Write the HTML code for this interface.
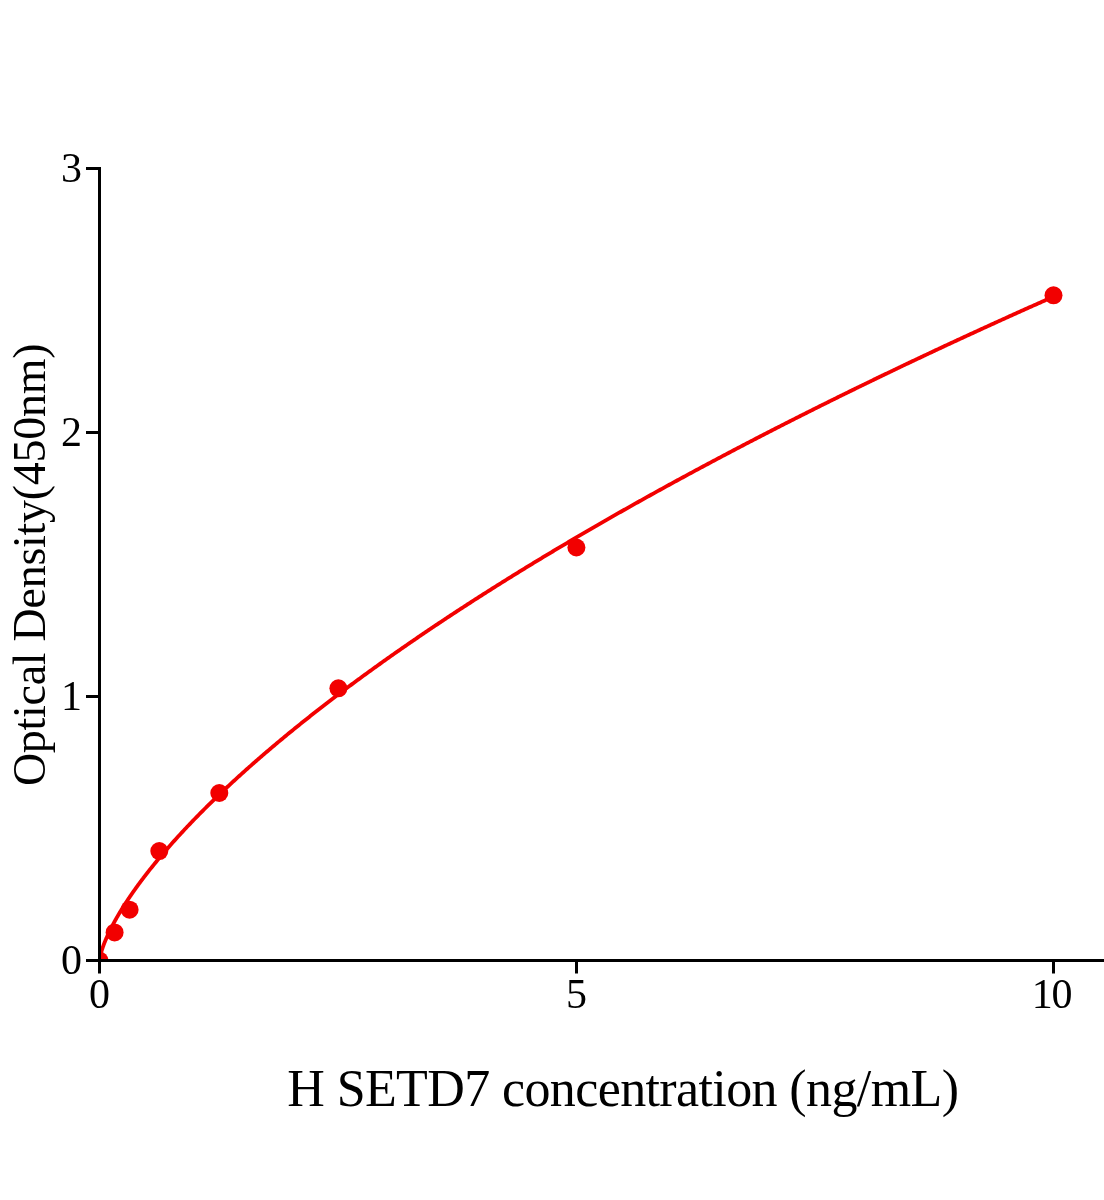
<!DOCTYPE html>
<html><head><meta charset="utf-8"><style>
html,body{margin:0;padding:0;background:#fff;}
svg{display:block;}
text{font-family:"Liberation Serif",serif;fill:#000;}
svg{will-change:transform;}
</style></head><body>
<svg width="1104" height="1200" viewBox="0 0 1104 1200">
<defs><clipPath id="pa"><rect x="99.5" y="0" width="1004.5" height="960.5"/></clipPath></defs>
<rect width="1104" height="1200" fill="#fff"/>
<g clip-path="url(#pa)">
<polyline points="99.50,960.80 99.74,958.68 99.98,957.35 100.22,956.20 100.46,955.17 100.70,954.21 100.94,953.30 101.18,952.44 101.42,951.61 101.66,950.82 101.90,950.05 102.14,949.30 102.38,948.58 102.62,947.87 102.86,947.17 103.10,946.49 103.34,945.83 103.57,945.17 103.81,944.53 104.05,943.90 104.29,943.28 104.53,942.67 104.77,942.06 105.01,941.47 105.25,940.88 105.49,940.30 105.73,939.72 105.97,939.16 106.21,938.60 106.45,938.04 106.69,937.49 106.93,936.95 107.17,936.41 107.41,935.87 107.65,935.35 107.89,934.82 108.13,934.30 108.37,933.79 108.61,933.27 108.85,932.77 109.09,932.26 109.33,931.76 109.57,931.27 109.81,930.77 110.05,930.29 110.29,929.80 110.53,929.32 110.77,928.84 111.01,928.36 111.25,927.89 111.48,927.42 111.72,926.95 111.96,926.48 112.20,926.02 112.44,925.56 112.68,925.11 112.92,924.65 113.16,924.20 113.40,923.75 113.64,923.30 113.88,922.86 114.12,922.41 114.36,921.97 114.60,921.53 114.84,921.10 115.08,920.66 115.32,920.23 115.56,919.80 115.80,919.37 116.04,918.95 116.28,918.52 116.52,918.10 116.76,917.68 117.00,917.26 117.24,916.84 117.48,916.43 117.72,916.01 117.96,915.60 118.20,915.19 118.44,914.78 118.68,914.37 118.92,913.96 119.16,913.56 119.39,913.16 119.63,912.75 119.87,912.35 120.11,911.96 120.35,911.56 120.59,911.16 120.83,910.77 121.07,910.37 121.31,909.98 121.55,909.59 121.79,909.20 122.03,908.81 122.27,908.43 122.51,908.04 122.75,907.66 122.99,907.27 123.23,906.89 123.47,906.51 123.71,906.13 123.95,905.75 124.19,905.38 124.43,905.00 124.67,904.63 124.91,904.25 125.15,903.88 125.39,903.51 125.63,903.14 125.87,902.77 126.11,902.40 126.35,902.03 126.59,901.66 126.83,901.30 127.07,900.93 127.31,900.57 127.54,900.21 127.78,899.84 128.02,899.48 128.26,899.12 128.50,898.76 128.74,898.41 128.98,898.05 129.22,897.69 129.46,897.34 129.70,896.98 129.94,896.63 130.18,896.27 130.42,895.92 130.66,895.57 130.90,895.22 131.14,894.87 131.38,894.52 131.62,894.17 131.86,893.83 132.10,893.48 132.34,893.14 132.58,892.79 132.82,892.45 133.06,892.10 133.30,891.76 133.54,891.42 133.78,891.08 134.02,890.74 134.26,890.40 134.50,890.06 134.74,889.72 134.98,889.38 135.22,889.05 135.45,888.71 135.69,888.38 135.93,888.04 136.17,887.71 136.41,887.37 136.65,887.04 136.89,886.71 137.13,886.38 137.37,886.05 137.61,885.72 137.85,885.39 138.09,885.06 138.33,884.73 138.57,884.40 138.81,884.08 139.05,883.75 139.29,883.43 139.53,883.10 139.77,882.78 140.01,882.45 140.25,882.13 140.49,881.81 140.73,881.48 140.97,881.16 141.21,880.84 141.45,880.52 141.69,880.20 141.93,879.88 142.17,879.56 142.41,879.25 142.65,878.93 142.89,878.61 143.13,878.30 143.36,877.98 143.60,877.66 143.84,877.35 144.08,877.04 144.32,876.72 144.56,876.41 144.80,876.10 145.04,875.78 145.28,875.47 145.52,875.16 145.76,874.85 146.00,874.54 146.24,874.23 146.48,873.92 146.72,873.61 146.96,873.30 147.20,873.00 148.50,871.34 149.79,869.70 151.09,868.07 152.39,866.45 153.68,864.85 154.98,863.26 156.28,861.68 157.57,860.11 158.87,858.55 160.17,857.00 161.46,855.47 162.76,853.94 164.06,852.42 165.35,850.92 166.65,849.42 167.95,847.93 169.24,846.45 170.54,844.98 171.83,843.52 173.13,842.06 174.43,840.62 175.72,839.18 177.02,837.75 178.32,836.33 179.61,834.91 180.91,833.50 182.21,832.10 183.50,830.71 184.80,829.32 186.10,827.94 187.39,826.57 188.69,825.20 189.99,823.84 191.28,822.49 192.58,821.14 193.88,819.80 195.17,818.46 196.47,817.13 197.77,815.81 199.06,814.49 200.36,813.18 201.66,811.87 202.95,810.57 204.25,809.27 205.55,807.98 206.84,806.69 208.14,805.41 209.44,804.13 210.73,802.86 212.03,801.60 213.32,800.33 214.62,799.08 215.92,797.83 217.21,796.58 218.51,795.33 219.81,794.09 221.10,792.86 222.40,791.63 223.70,790.40 224.99,789.18 226.29,787.96 227.59,786.75 228.88,785.54 230.18,784.34 231.48,783.13 232.77,781.94 234.07,780.74 235.37,779.55 236.66,778.37 237.96,777.19 239.26,776.01 240.55,774.83 241.85,773.66 243.15,772.49 244.44,771.33 245.74,770.17 247.04,769.01 248.33,767.86 249.63,766.70 250.93,765.56 252.22,764.41 253.52,763.27 254.82,762.13 256.11,761.00 257.41,759.87 258.70,758.74 260.00,757.62 261.30,756.49 262.59,755.37 263.89,754.26 265.19,753.14 266.48,752.03 267.78,750.93 269.08,749.82 270.37,748.72 271.67,747.62 272.97,746.53 274.26,745.43 275.56,744.34 276.86,743.26 278.15,742.17 279.45,741.09 280.75,740.01 282.04,738.93 283.34,737.86 284.64,736.79 285.93,735.72 287.23,734.65 288.53,733.59 289.82,732.53 291.12,731.47 292.42,730.41 293.71,729.36 295.01,728.30 296.31,727.25 297.60,726.21 298.90,725.16 300.19,724.12 301.49,723.08 302.79,722.04 304.08,721.01 305.38,719.97 306.68,718.94 307.97,717.91 309.27,716.89 310.57,715.86 311.86,714.84 313.16,713.82 314.46,712.80 315.75,711.79 317.05,710.77 318.35,709.76 319.64,708.75 320.94,707.74 322.24,706.74 323.53,705.74 324.83,704.73 326.13,703.73 327.42,702.74 328.72,701.74 330.02,700.75 331.31,699.76 332.61,698.77 333.91,697.78 335.20,696.79 336.50,695.81 337.80,694.83 339.09,693.85 340.39,692.87 341.68,691.89 342.98,690.92 344.28,689.95 345.57,688.98 346.87,688.01 348.17,687.04 349.46,686.07 350.76,685.11 352.06,684.15 353.35,683.19 354.65,682.23 355.95,681.27 357.24,680.32 358.54,679.36 359.84,678.41 361.13,677.46 362.43,676.51 363.73,675.57 365.02,674.62 366.32,673.68 367.62,672.74 368.91,671.80 370.21,670.86 371.51,669.92 372.80,668.99 374.10,668.05 375.40,667.12 376.69,666.19 377.99,665.26 379.29,664.33 380.58,663.41 381.88,662.48 383.18,661.56 384.47,660.64 385.77,659.72 387.06,658.80 388.36,657.88 389.66,656.97 390.95,656.05 392.25,655.14 393.55,654.23 394.84,653.32 396.14,652.41 397.44,651.50 398.73,650.60 400.03,649.69 401.33,648.79 402.62,647.89 403.92,646.99 405.22,646.09 406.51,645.19 407.81,644.30 409.11,643.40 410.40,642.51 411.70,641.62 413.00,640.73 414.29,639.84 415.59,638.95 416.89,638.06 418.18,637.18 419.48,636.29 420.78,635.41 422.07,634.53 423.37,633.65 424.67,632.77 425.96,631.90 427.26,631.02 428.55,630.14 429.85,629.27 431.15,628.40 432.44,627.53 433.74,626.66 435.04,625.79 436.33,624.92 437.63,624.05 438.93,623.19 440.22,622.33 441.52,621.46 442.82,620.60 444.11,619.74 445.41,618.88 446.71,618.02 448.00,617.17 449.30,616.31 450.60,615.46 451.89,614.61 453.19,613.75 454.49,612.90 455.78,612.05 457.08,611.20 458.38,610.36 459.67,609.51 460.97,608.66 462.27,607.82 463.56,606.98 464.86,606.14 466.16,605.30 467.45,604.46 468.75,603.62 470.05,602.78 471.34,601.94 472.64,601.11 473.93,600.27 475.23,599.44 476.53,598.61 477.82,597.78 479.12,596.95 480.42,596.12 481.71,595.29 483.01,594.46 484.31,593.64 485.60,592.81 486.90,591.99 488.20,591.17 489.49,590.34 490.79,589.52 492.09,588.70 493.38,587.88 494.68,587.07 495.98,586.25 497.27,585.43 498.57,584.62 499.87,583.81 501.16,582.99 502.46,582.18 503.76,581.37 505.05,580.56 506.35,579.75 507.65,578.94 508.94,578.14 510.24,577.33 511.54,576.53 512.83,575.72 514.13,574.92 515.42,574.12 516.72,573.32 518.02,572.52 519.31,571.72 520.61,570.92 521.91,570.12 523.20,569.32 524.50,568.53 525.80,567.73 527.09,566.94 528.39,566.15 529.69,565.36 530.98,564.56 532.28,563.77 533.58,562.98 534.87,562.20 536.17,561.41 537.47,560.62 538.76,559.84 540.06,559.05 541.36,558.27 542.65,557.48 543.95,556.70 545.25,555.92 546.54,555.14 547.84,554.36 549.14,553.58 550.43,552.80 551.73,552.03 553.03,551.25 554.32,550.47 555.62,549.70 556.92,548.93 558.21,548.15 559.51,547.38 560.80,546.61 562.10,545.84 563.40,545.07 564.69,544.30 565.99,543.53 567.29,542.77 568.58,542.00 569.88,541.23 571.18,540.47 572.47,539.71 573.77,538.94 575.07,538.18 576.36,537.42 577.66,536.66 578.96,535.90 580.25,535.14 581.55,534.38 582.85,533.62 584.14,532.87 585.44,532.11 586.74,531.35 588.03,530.60 589.33,529.85 590.63,529.09 591.92,528.34 593.22,527.59 594.52,526.84 595.81,526.09 597.11,525.34 598.41,524.59 599.70,523.84 601.00,523.10 602.29,522.35 603.59,521.61 604.89,520.86 606.18,520.12 607.48,519.37 608.78,518.63 610.07,517.89 611.37,517.15 612.67,516.41 613.96,515.67 615.26,514.93 616.56,514.19 617.85,513.46 619.15,512.72 620.45,511.98 621.74,511.25 623.04,510.51 624.34,509.78 625.63,509.05 626.93,508.31 628.23,507.58 629.52,506.85 630.82,506.12 632.12,505.39 633.41,504.66 634.71,503.93 636.01,503.21 637.30,502.48 638.60,501.75 639.90,501.03 641.19,500.30 642.49,499.58 643.78,498.86 645.08,498.13 646.38,497.41 647.67,496.69 648.97,495.97 650.27,495.25 651.56,494.53 652.86,493.81 654.16,493.09 655.45,492.38 656.75,491.66 658.05,490.94 659.34,490.23 660.64,489.51 661.94,488.80 663.23,488.08 664.53,487.37 665.83,486.66 667.12,485.95 668.42,485.24 669.72,484.53 671.01,483.82 672.31,483.11 673.61,482.40 674.90,481.69 676.20,480.99 677.50,480.28 678.79,479.57 680.09,478.87 681.39,478.16 682.68,477.46 683.98,476.76 685.28,476.05 686.57,475.35 687.87,474.65 689.16,473.95 690.46,473.25 691.76,472.55 693.05,471.85 694.35,471.15 695.65,470.45 696.94,469.76 698.24,469.06 699.54,468.36 700.83,467.67 702.13,466.97 703.43,466.28 704.72,465.58 706.02,464.89 707.32,464.20 708.61,463.51 709.91,462.82 711.21,462.13 712.50,461.44 713.80,460.75 715.10,460.06 716.39,459.37 717.69,458.68 718.99,457.99 720.28,457.31 721.58,456.62 722.88,455.94 724.17,455.25 725.47,454.57 726.77,453.88 728.06,453.20 729.36,452.52 730.65,451.83 731.95,451.15 733.25,450.47 734.54,449.79 735.84,449.11 737.14,448.43 738.43,447.75 739.73,447.08 741.03,446.40 742.32,445.72 743.62,445.04 744.92,444.37 746.21,443.69 747.51,443.02 748.81,442.34 750.10,441.67 751.40,441.00 752.70,440.32 753.99,439.65 755.29,438.98 756.59,438.31 757.88,437.64 759.18,436.97 760.48,436.30 761.77,435.63 763.07,434.96 764.37,434.29 765.66,433.63 766.96,432.96 768.26,432.29 769.55,431.63 770.85,430.96 772.15,430.30 773.44,429.63 774.74,428.97 776.03,428.31 777.33,427.64 778.63,426.98 779.92,426.32 781.22,425.66 782.52,425.00 783.81,424.34 785.11,423.68 786.41,423.02 787.70,422.36 789.00,421.70 790.30,421.04 791.59,420.39 792.89,419.73 794.19,419.07 795.48,418.42 796.78,417.76 798.08,417.11 799.37,416.46 800.67,415.80 801.97,415.15 803.26,414.50 804.56,413.84 805.86,413.19 807.15,412.54 808.45,411.89 809.75,411.24 811.04,410.59 812.34,409.94 813.64,409.29 814.93,408.64 816.23,408.00 817.52,407.35 818.82,406.70 820.12,406.06 821.41,405.41 822.71,404.77 824.01,404.12 825.30,403.48 826.60,402.83 827.90,402.19 829.19,401.55 830.49,400.90 831.79,400.26 833.08,399.62 834.38,398.98 835.68,398.34 836.97,397.70 838.27,397.06 839.57,396.42 840.86,395.78 842.16,395.14 843.46,394.50 844.75,393.87 846.05,393.23 847.35,392.59 848.64,391.96 849.94,391.32 851.24,390.69 852.53,390.05 853.83,389.42 855.13,388.78 856.42,388.15 857.72,387.52 859.02,386.89 860.31,386.25 861.61,385.62 862.90,384.99 864.20,384.36 865.50,383.73 866.79,383.10 868.09,382.47 869.39,381.84 870.68,381.22 871.98,380.59 873.28,379.96 874.57,379.33 875.87,378.71 877.17,378.08 878.46,377.45 879.76,376.83 881.06,376.20 882.35,375.58 883.65,374.96 884.95,374.33 886.24,373.71 887.54,373.09 888.84,372.46 890.13,371.84 891.43,371.22 892.73,370.60 894.02,369.98 895.32,369.36 896.62,368.74 897.91,368.12 899.21,367.50 900.51,366.88 901.80,366.26 903.10,365.65 904.39,365.03 905.69,364.41 906.99,363.80 908.28,363.18 909.58,362.57 910.88,361.95 912.17,361.34 913.47,360.72 914.77,360.11 916.06,359.49 917.36,358.88 918.66,358.27 919.95,357.66 921.25,357.04 922.55,356.43 923.84,355.82 925.14,355.21 926.44,354.60 927.73,353.99 929.03,353.38 930.33,352.77 931.62,352.16 932.92,351.56 934.22,350.95 935.51,350.34 936.81,349.73 938.11,349.13 939.40,348.52 940.70,347.91 942.00,347.31 943.29,346.70 944.59,346.10 945.88,345.50 947.18,344.89 948.48,344.29 949.77,343.69 951.07,343.08 952.37,342.48 953.66,341.88 954.96,341.28 956.26,340.68 957.55,340.08 958.85,339.47 960.15,338.87 961.44,338.28 962.74,337.68 964.04,337.08 965.33,336.48 966.63,335.88 967.93,335.28 969.22,334.69 970.52,334.09 971.82,333.49 973.11,332.90 974.41,332.30 975.71,331.71 977.00,331.11 978.30,330.52 979.60,329.92 980.89,329.33 982.19,328.73 983.49,328.14 984.78,327.55 986.08,326.96 987.38,326.36 988.67,325.77 989.97,325.18 991.26,324.59 992.56,324.00 993.86,323.41 995.15,322.82 996.45,322.23 997.75,321.64 999.04,321.05 1000.34,320.46 1001.64,319.88 1002.93,319.29 1004.23,318.70 1005.53,318.11 1006.82,317.53 1008.12,316.94 1009.42,316.36 1010.71,315.77 1012.01,315.18 1013.31,314.60 1014.60,314.02 1015.90,313.43 1017.20,312.85 1018.49,312.26 1019.79,311.68 1021.09,311.10 1022.38,310.52 1023.68,309.94 1024.98,309.35 1026.27,308.77 1027.57,308.19 1028.87,307.61 1030.16,307.03 1031.46,306.45 1032.75,305.87 1034.05,305.29 1035.35,304.71 1036.64,304.14 1037.94,303.56 1039.24,302.98 1040.53,302.40 1041.83,301.83 1043.13,301.25 1044.42,300.67 1045.72,300.10 1047.02,299.52 1048.31,298.95 1049.61,298.37 1050.91,297.80 1052.20,297.22 1053.50,296.65" fill="none" stroke="#f20000" stroke-width="3.8" stroke-linejoin="round" stroke-linecap="round"/>
<g fill="#f20000">
<circle cx="99.5" cy="960.5" r="9"/>
<circle cx="114.6" cy="932.4" r="9"/>
<circle cx="129.6" cy="909.7" r="9"/>
<circle cx="159.3" cy="851.1" r="9"/>
<circle cx="219.3" cy="793.0" r="9"/>
<circle cx="338.4" cy="688.3" r="9"/>
<circle cx="576.4" cy="547.5" r="9"/>
<circle cx="1053.5" cy="295.3" r="9"/>
</g>
</g>
<g stroke="#000" stroke-width="3" fill="none">
<line x1="99.5" y1="167" x2="99.5" y2="973.5"/>
<line x1="86" y1="960.5" x2="1104" y2="960.5"/>
<line x1="86" y1="168.5" x2="99.5" y2="168.5"/>
<line x1="86" y1="432.5" x2="99.5" y2="432.5"/>
<line x1="86" y1="696.5" x2="99.5" y2="696.5"/>
<line x1="576.5" y1="960.5" x2="576.5" y2="973.5"/>
<line x1="1053.5" y1="960.5" x2="1053.5" y2="973.5"/>
</g>
<g font-size="42" text-anchor="end">
<text x="82" y="182">3</text>
<text x="82" y="446">2</text>
<text x="82" y="710">1</text>
<text x="82" y="974">0</text>
</g>
<g font-size="42" text-anchor="middle">
<text x="99.5" y="1008">0</text>
<text x="576.5" y="1008">5</text>
</g><g font-size="42"><text x="1031.7 1051.5" y="1008">10</text>
</g>
<text x="287.30" y="1106" font-size="52.0" letter-spacing="-0.612">H SETD7 concentration (ng/mL)</text>
<text transform="translate(45.1,786.09) rotate(-90)" font-size="46.0" letter-spacing="-0.276">Optical Density(450nm)</text>
</svg>
</body></html>
